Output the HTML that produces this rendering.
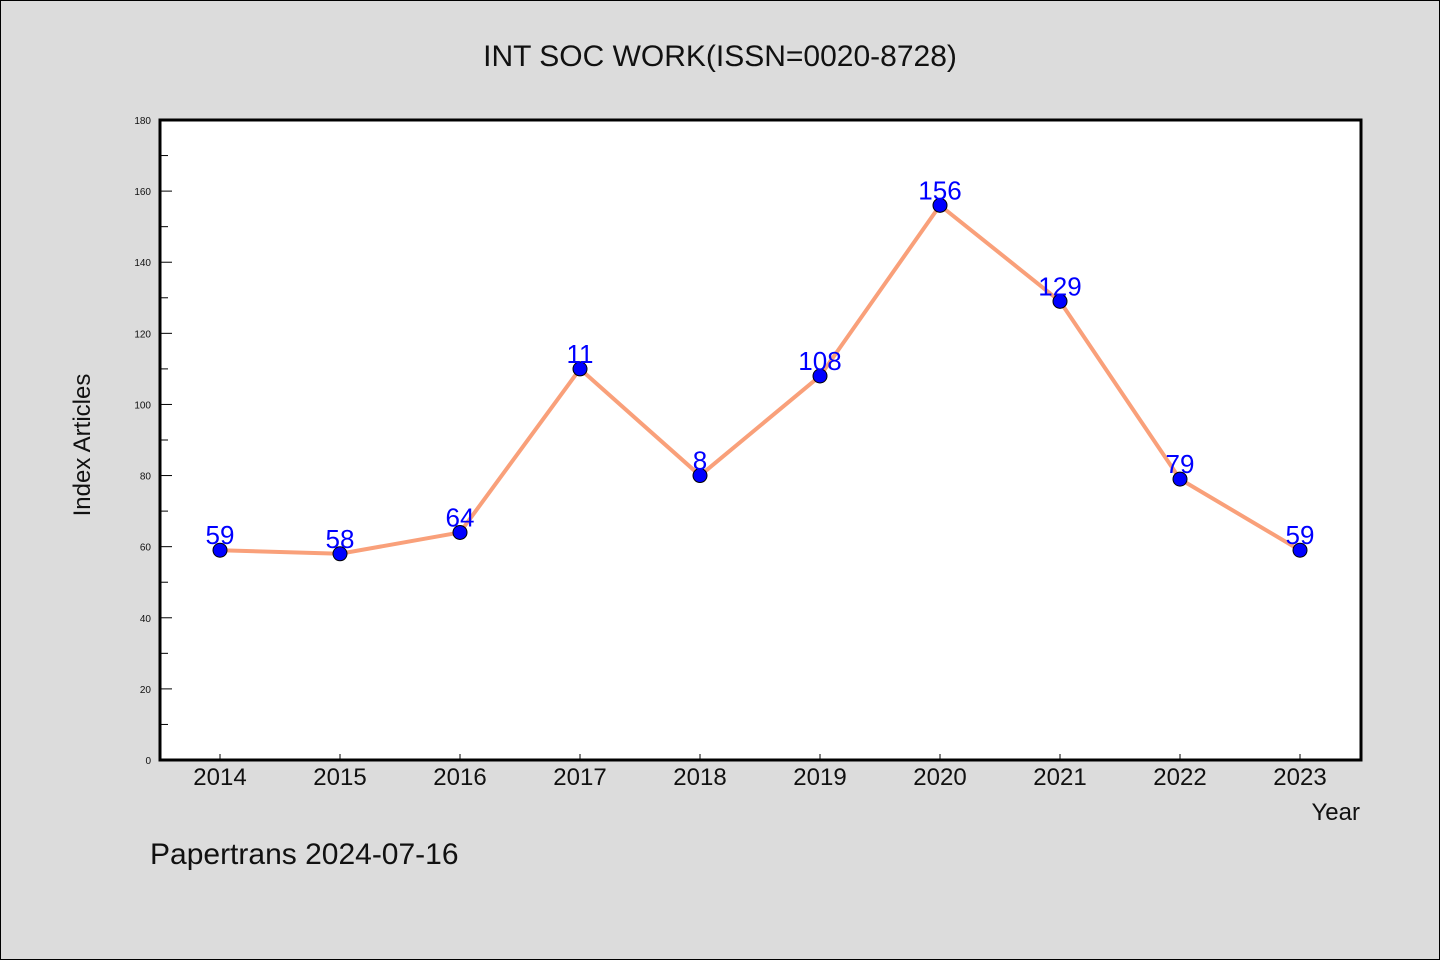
<!DOCTYPE html>
<html><head><meta charset="utf-8"><style>
body{margin:0;background:#dcdcdc;}
svg{display:block;font-family:"WenQuanYi Zen Hei","Liberation Sans",sans-serif;}
</style></head><body>
<svg id="chart" width="1440" height="960">
<rect x="0.5" y="0.5" width="1439" height="959" fill="#dcdcdc" stroke="#000"/>
<text x="720" y="66" font-size="30" text-anchor="middle" fill="#111">INT SOC WORK(ISSN=0020-8728)</text>
<rect x="160" y="120" width="1201" height="640" fill="#fff"/>
<g id="ticks"></g>
<g id="series"></g>
<rect x="160" y="120" width="1201" height="640" fill="none" stroke="#000" stroke-width="3"/>
<text x="90" y="445" font-size="24" text-anchor="middle" fill="#111" transform="rotate(-90 90 445)">Index Articles</text>
<text x="1360" y="820" font-size="24" text-anchor="end" fill="#111">Year</text>
<text x="150" y="864" font-size="30" fill="#111">Papertrans 2024-07-16</text>
</svg>
<script>
const years = ["2014","2015","2016","2017","2018","2019","2020","2021","2022","2023"];
const values = [59,58,64,110,80,108,156,129,79,59];
const pointLabels = ["59","58","64","11","8","108","156","129","79","59"];
const yTicks = [0,20,40,60,80,100,120,140,160,180];
const NS="http://www.w3.org/2000/svg";
const x0=160,x1=1361,y0=760,y1=120,yMax=180;
const xs=i=>220+i*(1300-220)/(years.length-1);
const ys=v=>y0-(v/yMax)*(y0-y1);
function mk(tag,attrs,parent){const e=document.createElementNS(NS,tag);for(const k in attrs)e.setAttribute(k,attrs[k]);parent.appendChild(e);return e;}
const tg=document.getElementById('ticks');
yTicks.forEach(t=>{
  const l=mk('line',{x1:x0,x2:x0+12,y1:ys(t),y2:ys(t),stroke:'#000','stroke-width':1},tg);
  
  
  const tx=mk('text',{x:151,y:ys(t)+4,'font-size':10,'text-anchor':'end',fill:'#111'},tg);
  tx.textContent=t;
  
  
  if(t<yMax){const m=mk('line',{x1:x0,x2:x0+8,y1:ys(t+10),y2:ys(t+10),stroke:'#000','stroke-width':1},tg);
  
  }
});
years.forEach((y,i)=>{
  const l=mk('line',{x1:xs(i),x2:xs(i),y1:y0,y2:y0-6,stroke:'#000','stroke-width':1},tg);
  
  
  const tx=mk('text',{x:xs(i),y:785,'font-size':24,'text-anchor':'middle',fill:'#111'},tg);
  tx.textContent=y;
  
  
});
const sg=document.getElementById('series');
const pl=mk('polyline',{points:values.map((v,i)=>xs(i)+','+ys(v)).join(' '),fill:'none',stroke:'#f9a07a','stroke-width':4},sg);


values.forEach((v,i)=>{
  const c=mk('circle',{cx:xs(i),cy:ys(v),r:7,fill:'#0000ff',stroke:'#000','stroke-width':1},sg);
  
  
  const t=mk('text',{x:xs(i),y:ys(v)-6,'font-size':26,'text-anchor':'middle',fill:'#0000ff'},sg);
  t.textContent=pointLabels[i];
  
  
});
</script>
</body></html>
